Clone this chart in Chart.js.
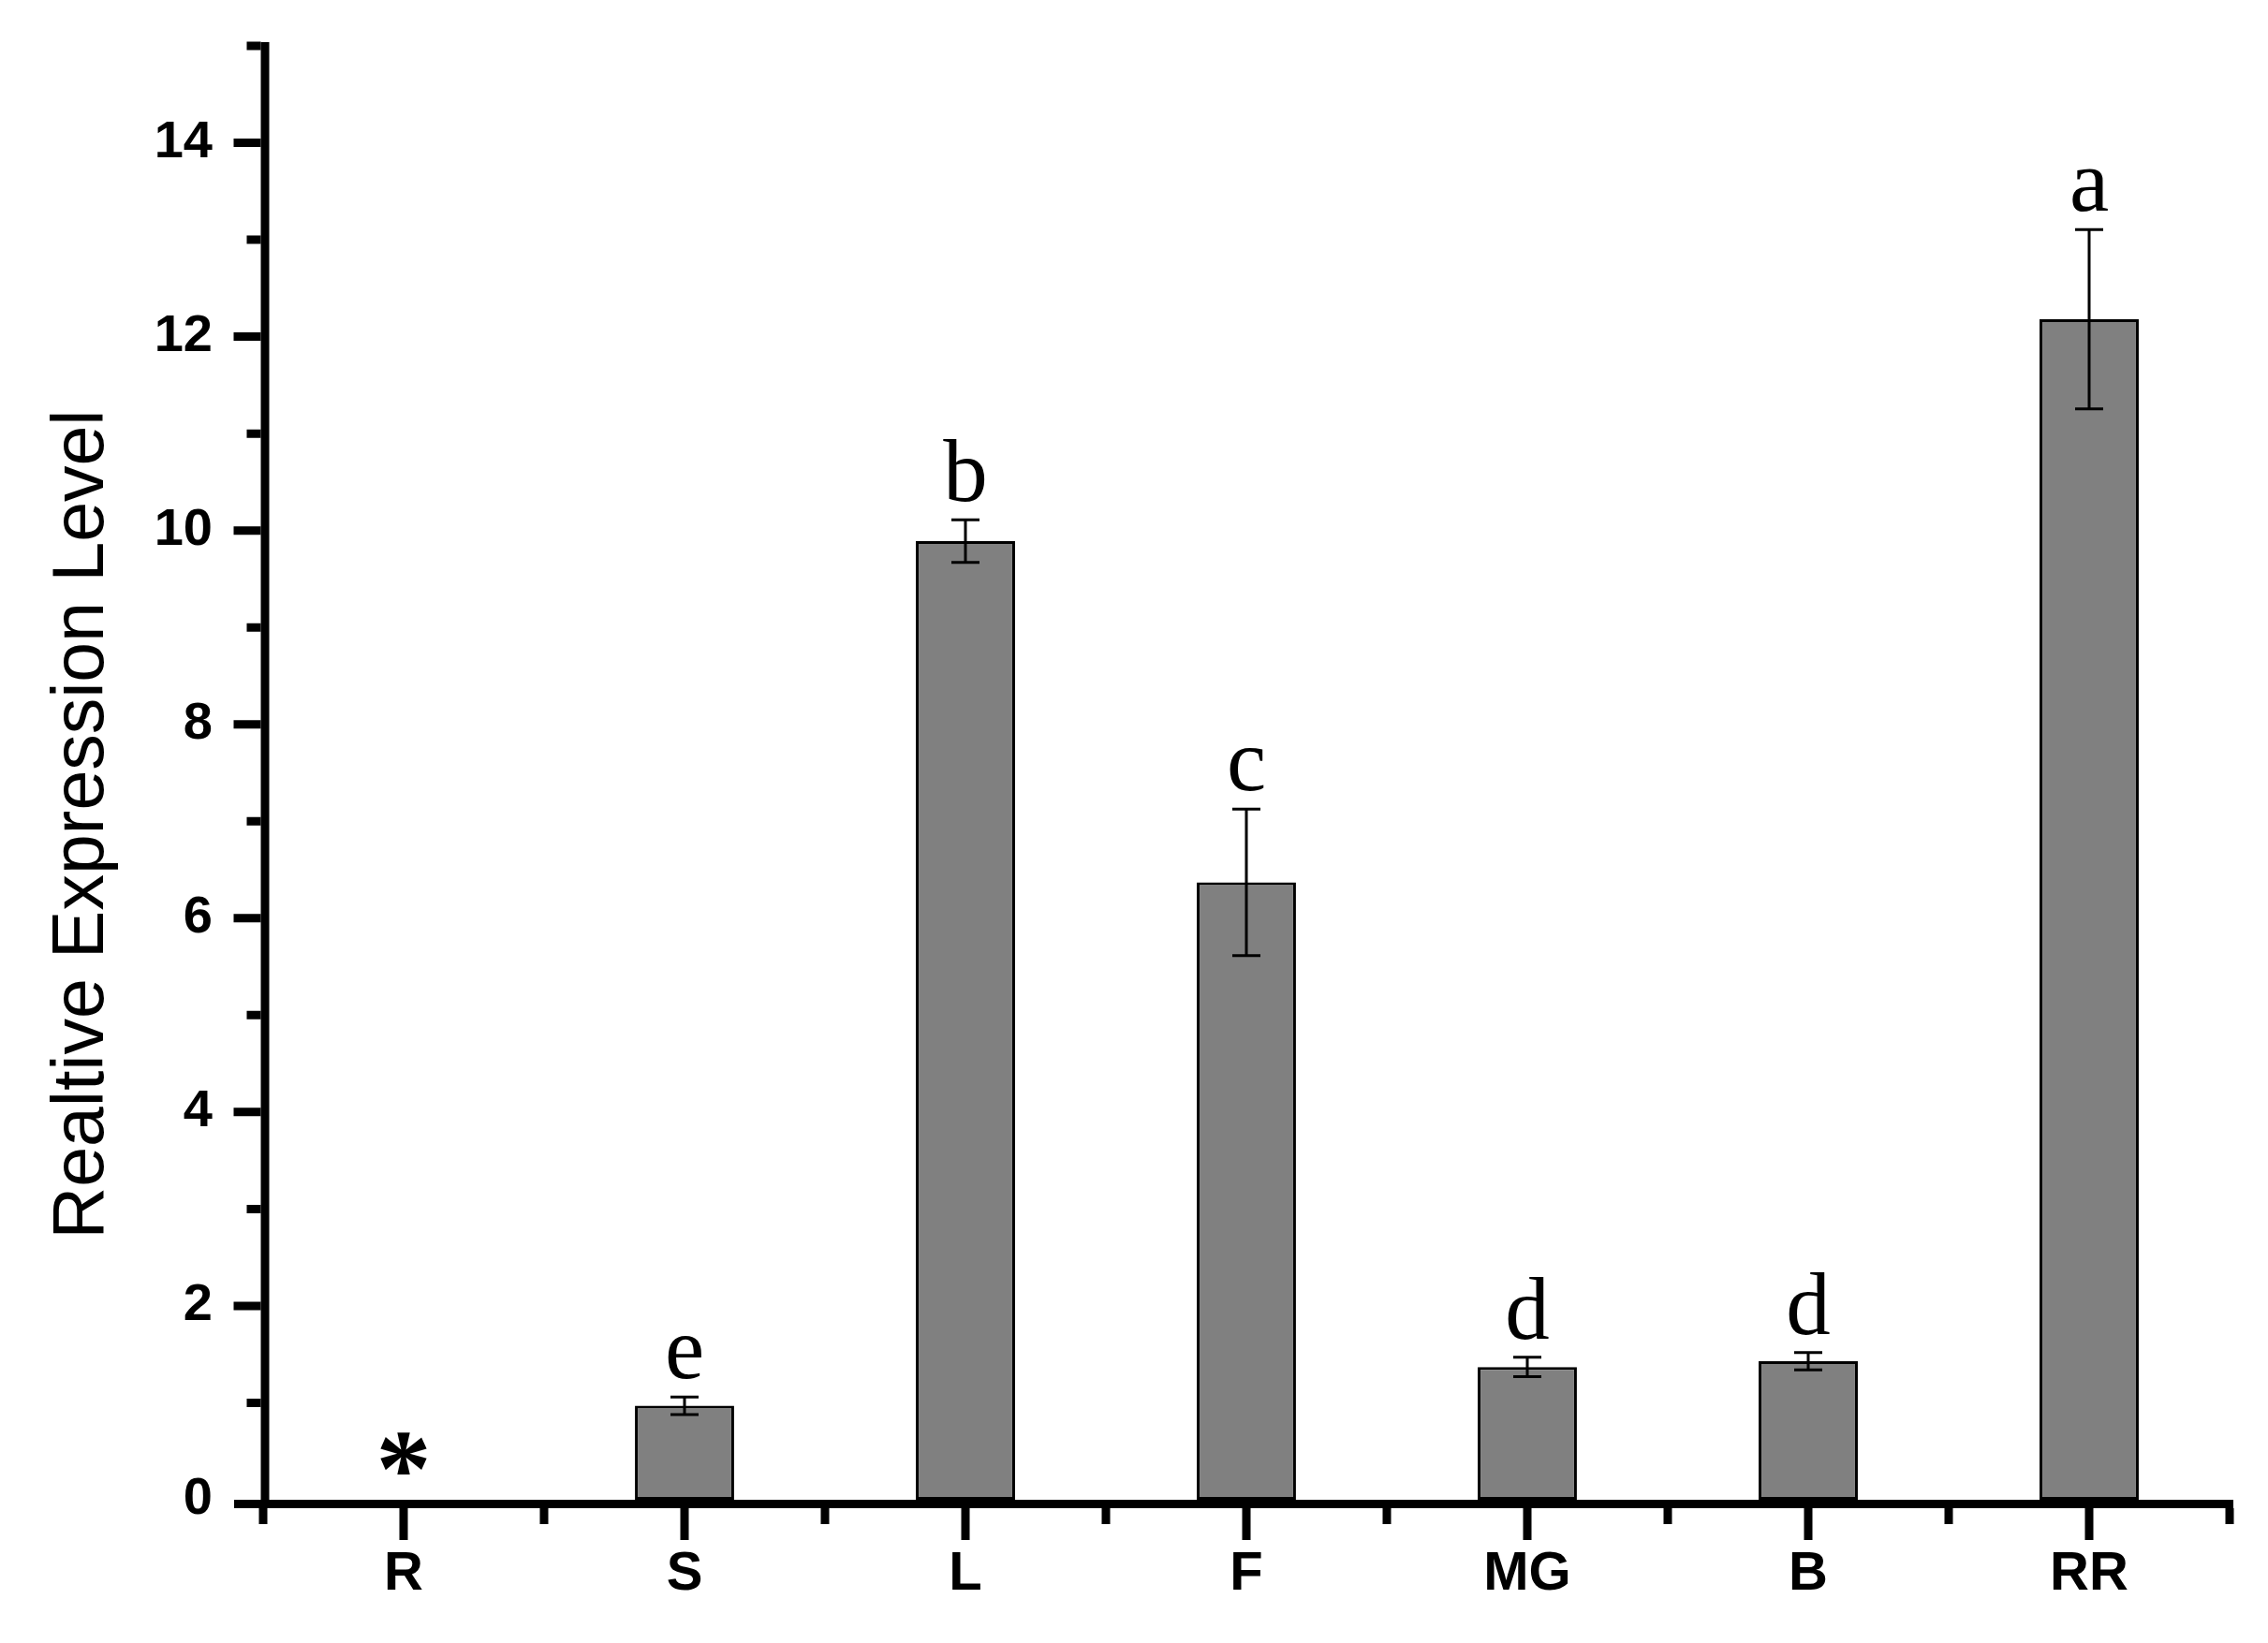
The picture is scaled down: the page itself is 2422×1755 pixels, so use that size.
<!DOCTYPE html>
<html>
<head>
<meta charset="utf-8">
<script src="https://cdn.jsdelivr.net/npm/chart.js@4.4.0/dist/chart.umd.min.js"></script>
<style>
  html,body{margin:0;padding:0;background:#fff;}
  #wrap{width:2422px;height:1755px;}
</style>
</head>
<body>
<div id="wrap"><canvas id="chart" width="2422" height="1755"></canvas></div>
<script>
// ---- данные ----
const CATEGORIES = ["R", "S", "L", "F", "MG", "B", "RR"];
const MEANS      = [0, 0.97, 9.89, 6.37, 1.37, 1.43, 12.18];
const ERRORS     = [0, 0.09, 0.22, 0.755, 0.10, 0.09, 0.925];
const LETTERS    = ["*", "e", "b", "c", "d", "d", "a"];
const Y_MIN = 0, Y_MAX = 15;
const Y_LABELS = [0, 2, 4, 6, 8, 10, 12, 14];
const Y_TITLE = "Realtive Expression Level";

// ---- оформление ----
const SANS  = '"Liberation Sans", Arial, sans-serif';
const SERIF = '"Liberation Serif", "Times New Roman", serif';
const AXIS_W = 9;

// оси, тики, усы и буквы рисуем сами поверх баров
const decor = {
  id: "decor",
  afterDatasetsDraw(chart){
    const {ctx, chartArea:a, scales:{x, y}} = chart;
    ctx.save();
    ctx.fillStyle = "#000";
    ctx.strokeStyle = "#000";

    // усы
    ctx.lineWidth = 3;
    MEANS.forEach((m, i) => {
      const e = ERRORS[i];
      if(!e) return;
      const cx = x.getPixelForValue(i);
      const yt = y.getPixelForValue(m + e), yb = y.getPixelForValue(m - e);
      ctx.beginPath();
      ctx.moveTo(cx, yt); ctx.lineTo(cx, yb);
      ctx.moveTo(cx - 15, yt); ctx.lineTo(cx + 15, yt);
      ctx.moveTo(cx - 15, yb); ctx.lineTo(cx + 15, yb);
      ctx.stroke();
    });

    // буквы над усами
    ctx.font = "95px " + SERIF;
    ctx.textAlign = "center";
    ctx.textBaseline = "alphabetic";
    LETTERS.forEach((L, i) => {
      const cx = x.getPixelForValue(i);
      if(L === "*"){
        ctx.save();
        ctx.font = "bold 118px " + SERIF;
        const mt = ctx.measureText("*");
        const off = (mt.actualBoundingBoxAscent - mt.actualBoundingBoxDescent) / 2;
        ctx.fillText("*", cx, y.getPixelForValue(0) - 50 + off);
        ctx.restore();
      } else {
        ctx.fillText(L, cx, y.getPixelForValue(MEANS[i] + ERRORS[i]) - 20);
      }
    });

    // ось X
    const yAx = a.bottom + AXIS_W / 2;
    ctx.lineWidth = AXIS_W;
    ctx.lineCap = "butt";
    ctx.beginPath();
    ctx.moveTo(a.left - 31, yAx); ctx.lineTo(a.right + 4, yAx);
    ctx.stroke();
    const step = x.getPixelForValue(1) - x.getPixelForValue(0);
    ctx.beginPath();
    for(let i = 0; i <= CATEGORIES.length; i++){
      const px = x.getPixelForValue(0) - step / 2 + i * step;
      ctx.moveTo(px, a.bottom + AXIS_W); ctx.lineTo(px, a.bottom + AXIS_W + 17);
    }
    CATEGORIES.forEach((c, i) => {
      const px = x.getPixelForValue(i);
      ctx.moveTo(px, a.bottom + AXIS_W); ctx.lineTo(px, a.bottom + AXIS_W + 34);
    });
    ctx.stroke();

    // ось Y
    const xAx = a.left + 2;
    ctx.beginPath();
    ctx.moveTo(xAx, a.top - 4); ctx.lineTo(xAx, a.bottom + AXIS_W);
    ctx.stroke();
    ctx.beginPath();
    for(let v = Y_MIN; v <= Y_MAX; v++){
      if(v === 0) continue;
      const py = y.getPixelForValue(v);
      const len = Y_LABELS.includes(v) ? 29 : 15;
      ctx.moveTo(xAx - AXIS_W / 2, py); ctx.lineTo(xAx - AXIS_W / 2 - len, py);
    }
    ctx.stroke();

    // подпись оси Y
    ctx.save();
    ctx.translate(110, (a.top + a.bottom) / 2 + 55);
    ctx.rotate(-Math.PI / 2);
    ctx.font = "77px " + SANS;
    ctx.textAlign = "center";
    ctx.textBaseline = "alphabetic";
    ctx.fillText(Y_TITLE, 0, 0);
    ctx.restore();

    ctx.restore();
  }
};

const noPad = s => { s.paddingTop = 0; s.paddingBottom = 0; s.paddingLeft = 0; s.paddingRight = 0; };

new Chart(document.getElementById("chart"), {
  type: "bar",
  data: {
    labels: CATEGORIES,
    datasets: [{
      data: MEANS,
      backgroundColor: "#808080",
      borderColor: "#000",
      borderWidth: 3,
      borderSkipped: false,
      barPercentage: 0.353,
      categoryPercentage: 1
    }]
  },
  options: {
    responsive: false,
    devicePixelRatio: 1,
    animation: false,
    layout: { padding: { top: 49, right: 41, left: 0, bottom: 0 } },
    plugins: { legend: { display: false }, tooltip: { enabled: false } },
    scales: {
      x: {
        grid: { display: false, drawTicks: false },
        border: { display: false },
        ticks: {
          color: "#000", padding: 45, maxRotation: 0, autoSkip: false,
          font: { family: SANS, size: 58, weight: "bold" }
        },
        afterFit: s => { s.height = 153; noPad(s); }
      },
      y: {
        min: Y_MIN, max: Y_MAX,
        grid: { display: false, drawTicks: false },
        border: { display: false },
        ticks: {
          stepSize: 1, autoSkip: false, color: "#000", padding: 54,
          font: { family: SANS, size: 56, weight: "bold" },
          callback: v => Y_LABELS.includes(v) ? String(v) : ""
        },
        afterFit: s => { s.width = 281; noPad(s); }
      }
    }
  },
  plugins: [decor]
});
</script>
</body>
</html>
